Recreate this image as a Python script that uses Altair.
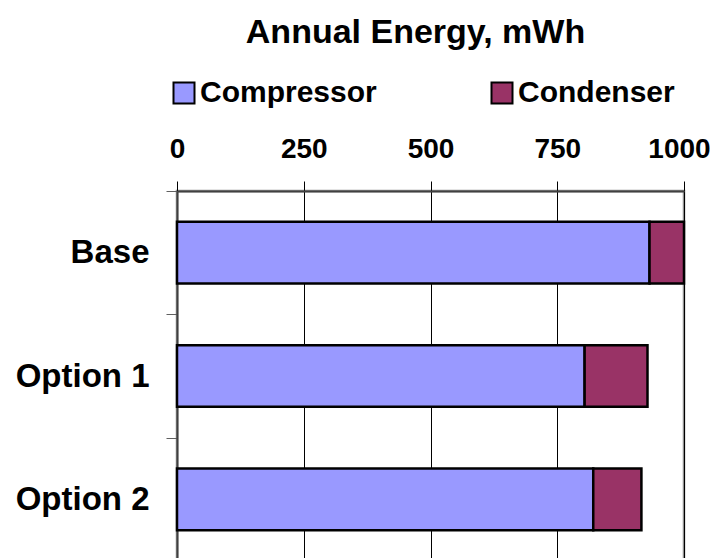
import altair as alt
import pandas as pd

categories = ["Base", "Option 1", "Option 2"]
compressor = [932, 804, 821]
condenser = [68, 124, 95]
series = ["Compressor", "Condenser"]
colors = ["#9999FF", "#993366"]
x_ticks = [0, 250, 500, 750, 1000]

rows = []
for i, c in enumerate(categories):
    rows.append({"case": c, "series": series[0], "order": 0, "value": compressor[i]})
    rows.append({"case": c, "series": series[1], "order": 1, "value": condenser[i]})
df = pd.DataFrame(rows)

FONT = "Liberation Sans"

chart = alt.Chart(df).mark_bar(
    stroke="black", strokeWidth=2.5, height=alt.RelativeBandSize(0.5)
).encode(
    y=alt.Y(
        "case:N", sort=categories, title=None,
        scale=alt.Scale(paddingInner=0, paddingOuter=0),
        axis=alt.Axis(
            tickBand="extent", grid=False,
            labelFont=FONT, labelFontSize=33, labelFontWeight="bold", labelColor="black",
            tickSize=11, labelPadding=17, tickColor="#606060", tickWidth=1,
            domainColor="#404040", domainWidth=2,
        ),
    ),
    x=alt.X(
        "value:Q", stack="zero", title=None,
        scale=alt.Scale(domain=[0, 1000], nice=False),
        axis=alt.Axis(
            orient="top", values=x_ticks, format="d",
            labelFont=FONT, labelFontSize=28, labelFontWeight="bold", labelColor="black",
            labelBaseline="alphabetic", labelPadding=24, labelFlush=False,
            labelOffset={"condition": {"test": "datum.value == 1000", "value": -5}, "value": 0},
            tickSize=10, tickColor="black", tickWidth=1,
            grid=True, gridColor="black", gridWidth=1, gridOpacity=1,
            domainColor="#404040", domainWidth=2,
        ),
    ),
    color=alt.Color(
        "series:N",
        scale=alt.Scale(domain=series, range=colors),
        legend=alt.Legend(
            orient="none", legendX=-8, legendY=-113, direction="horizontal",
            title=None, symbolType="square", symbolSize=441,
            symbolStrokeColor="black", symbolStrokeWidth=2, symbolOpacity=1,
            labelFont=FONT, labelFontSize=30, labelFontWeight="bold", labelColor="black",
            labelOffset=1, labelLimit=400, columnPadding=110,
        ),
    ),
    order=alt.Order("order:Q"),
).properties(
    width=507,
    height=370,
    title=alt.TitleParams(
        "Annual Energy, mWh", font=FONT, fontSize=34, fontWeight="bold",
        color="black", anchor="middle", dx=-15, offset=28,
    ),
    padding={"left": 169, "top": 183, "right": 26, "bottom": 0},
    autosize=alt.AutoSizeParams(type="none"),
).configure_view(
    stroke="#909090", strokeWidth=2.5
)

chart.save("out.html", embed_options={"renderer": "svg", "actions": False})
